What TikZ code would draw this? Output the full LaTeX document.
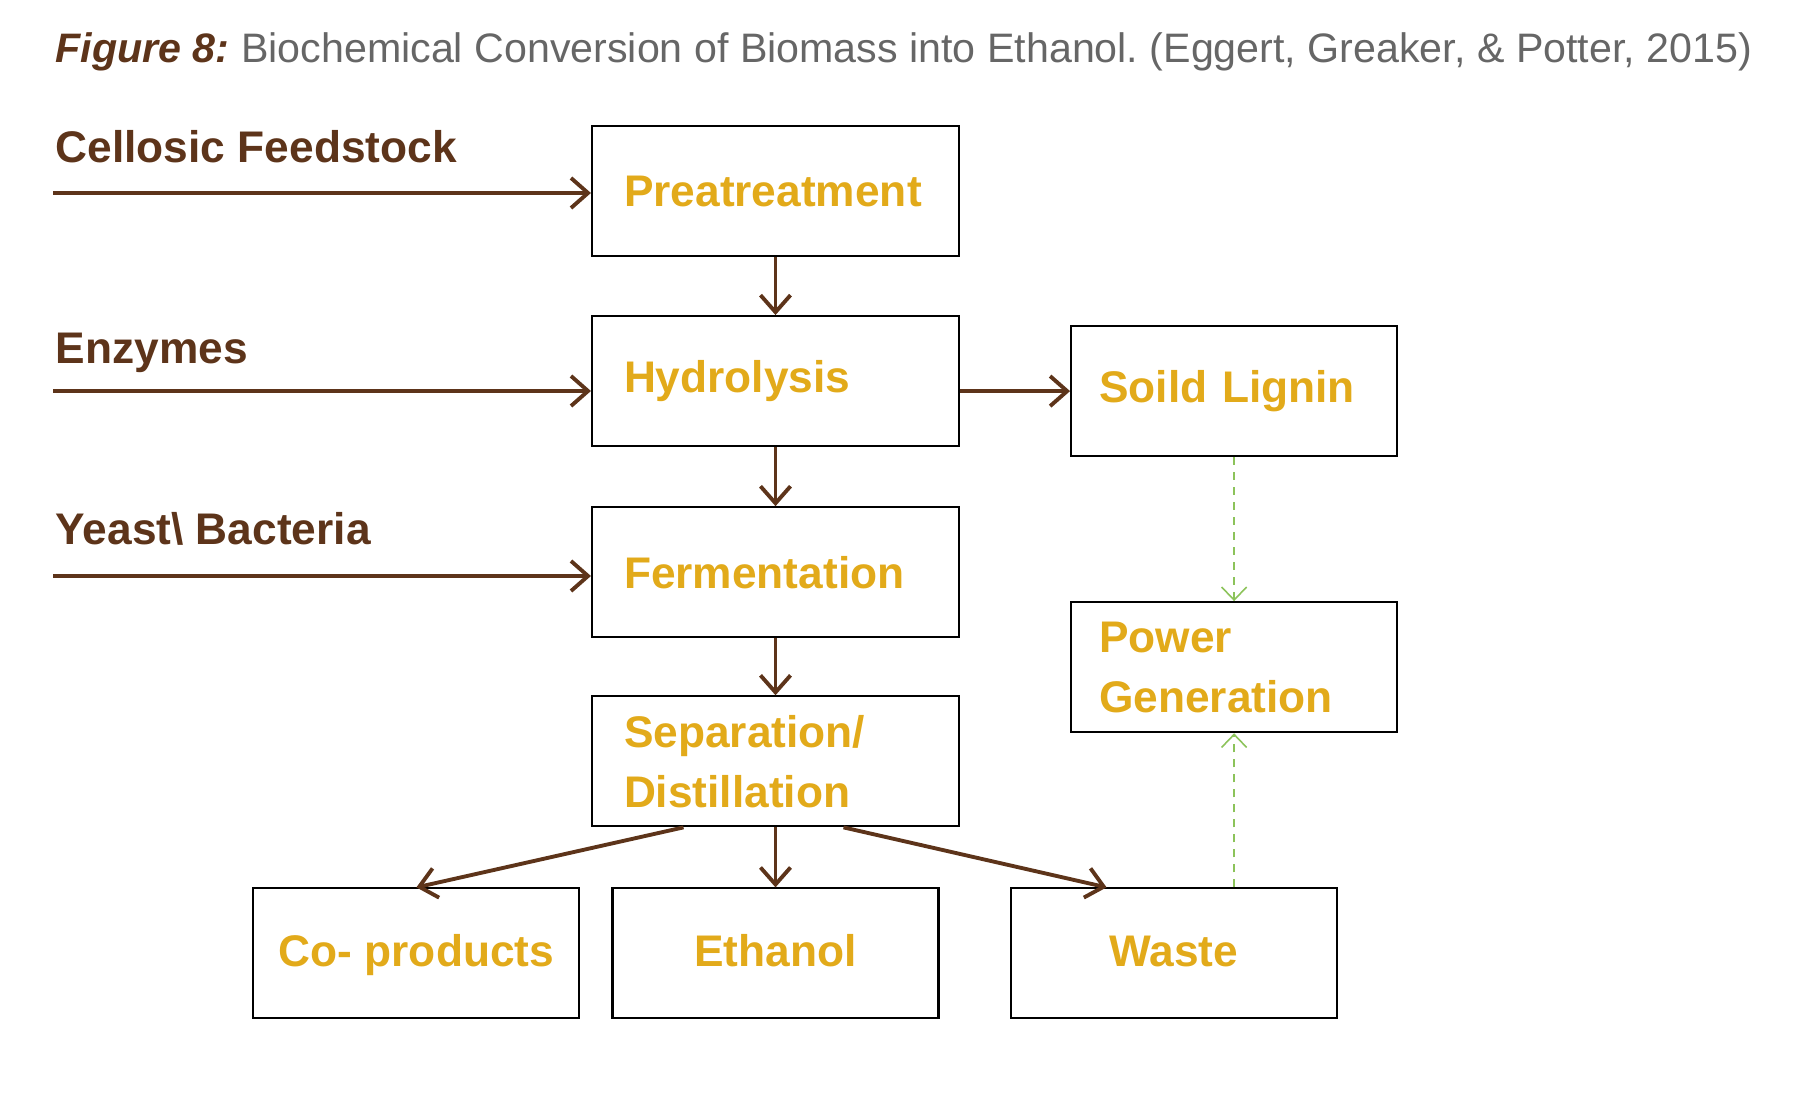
\documentclass[tikz,border=0pt]{standalone}
\usepackage{fontspec}
\setmainfont{Liberation Sans}
\usetikzlibrary{arrows.meta,positioning}
\definecolor{bark}{HTML}{5D341A}
\definecolor{gold}{HTML}{E2AA1A}
\definecolor{leaf}{HTML}{8CC35A}
\definecolor{caption}{HTML}{666666}

\begin{document}
\begin{tikzpicture}[
  frame/.style={draw, line width=0.6pt, minimum height=1.30cm,
                font=\fontsize{12.6}{17}\selectfont\bfseries, text=gold},
  stage/.style={frame, minimum width=3.67cm, text width=3.03cm, inner xsep=0.32cm, align=left},
  side/.style={frame, minimum width=3.26cm, text width=2.70cm, inner xsep=0.28cm, align=left},
  product/.style={frame, minimum width=3.26cm, text height=0.9em, text depth=0.18em},
  feed/.style={anchor=base west, inner sep=0pt,
               font=\fontsize{12.6}{15}\selectfont\bfseries, text=bark},
  arr/.style={-{Straight Barb[length=1.7mm, width=3mm]}, line width=1.1pt, draw=bark},
  recycle/.style={-{Straight Barb[length=1.3mm, width=2.5mm]}, line width=0.45pt,
                  draw=leaf, dash pattern=on 0.8mm off 0.7mm},
]
  \useasboundingbox (0,0) rectangle (18,-11.17);

  \node[anchor=base west, inner sep=0pt, font=\fontsize{11.72}{13}\selectfont\frenchspacing, text=caption]
    (title) at (0.55,-0.62)
    {\textcolor{bark}{\bfseries\itshape Figure 8:} Biochemical Conversion of Biomass into Ethanol. (Eggert, Greaker, \& Potter, 2015)};

  \node[stage] (pre) at (7.755,-1.91) {Preatreatment};
  \node[stage, below=0.58cm of pre] (hyd) {Hydrolysis};
  \node[stage, below=0.59cm of hyd] (ferm) {Fermentation};
  \node[stage, below=0.57cm of ferm] (sep) {Separation/\\Distillation};
  \node[product, below=0.60cm of sep] (eth) {Ethanol};
  \node[product, left=0.31cm of eth] (cop) {Co- products};
  \node[product, right=0.70cm of eth] (waste) {Waste};
  \node[side, right=1.10cm of hyd, yshift=-0.1cm] (lig) {Soild Lignin};
  \node[side, below=1.44cm of lig] (pow) {Power\\Generation};

  \node[feed] (cf) at (0.55,-1.63) {Cellosic Feedstock};
  \node[feed] (enz) at (0.55,-3.63) {Enzymes};
  \node[feed] (yb) at (0.55,-5.44) {Yeast\textbackslash{} Bacteria};
  \coordinate (cfs) at (0.53,-1.93);
  \coordinate (enzs) at (0.53,-3.91);
  \coordinate (ybs) at (0.53,-5.76);

  \draw[arr] (cfs) -- (cfs -| pre.west);
  \draw[arr] (enzs) -- (enzs -| hyd.west);
  \draw[arr] (ybs) -- (ybs -| ferm.west);

  \draw[arr] (pre) -- (hyd);
  \draw[arr] (hyd) -- (ferm);
  \draw[arr] (ferm) -- (sep);
  \draw[arr] (sep) -- (eth);
  \draw[arr] (hyd.east |- lig) -- (lig);
  \draw[arr] ([xshift=-0.92cm]sep.south) -- (cop.north);
  \draw[arr] ([xshift=0.68cm]sep.south) -- ([xshift=-0.67cm]waste.north);

  \draw[recycle] (lig) -- (pow);
  \draw[recycle] (waste.north -| pow) -- (pow);
\end{tikzpicture}
\end{document}
